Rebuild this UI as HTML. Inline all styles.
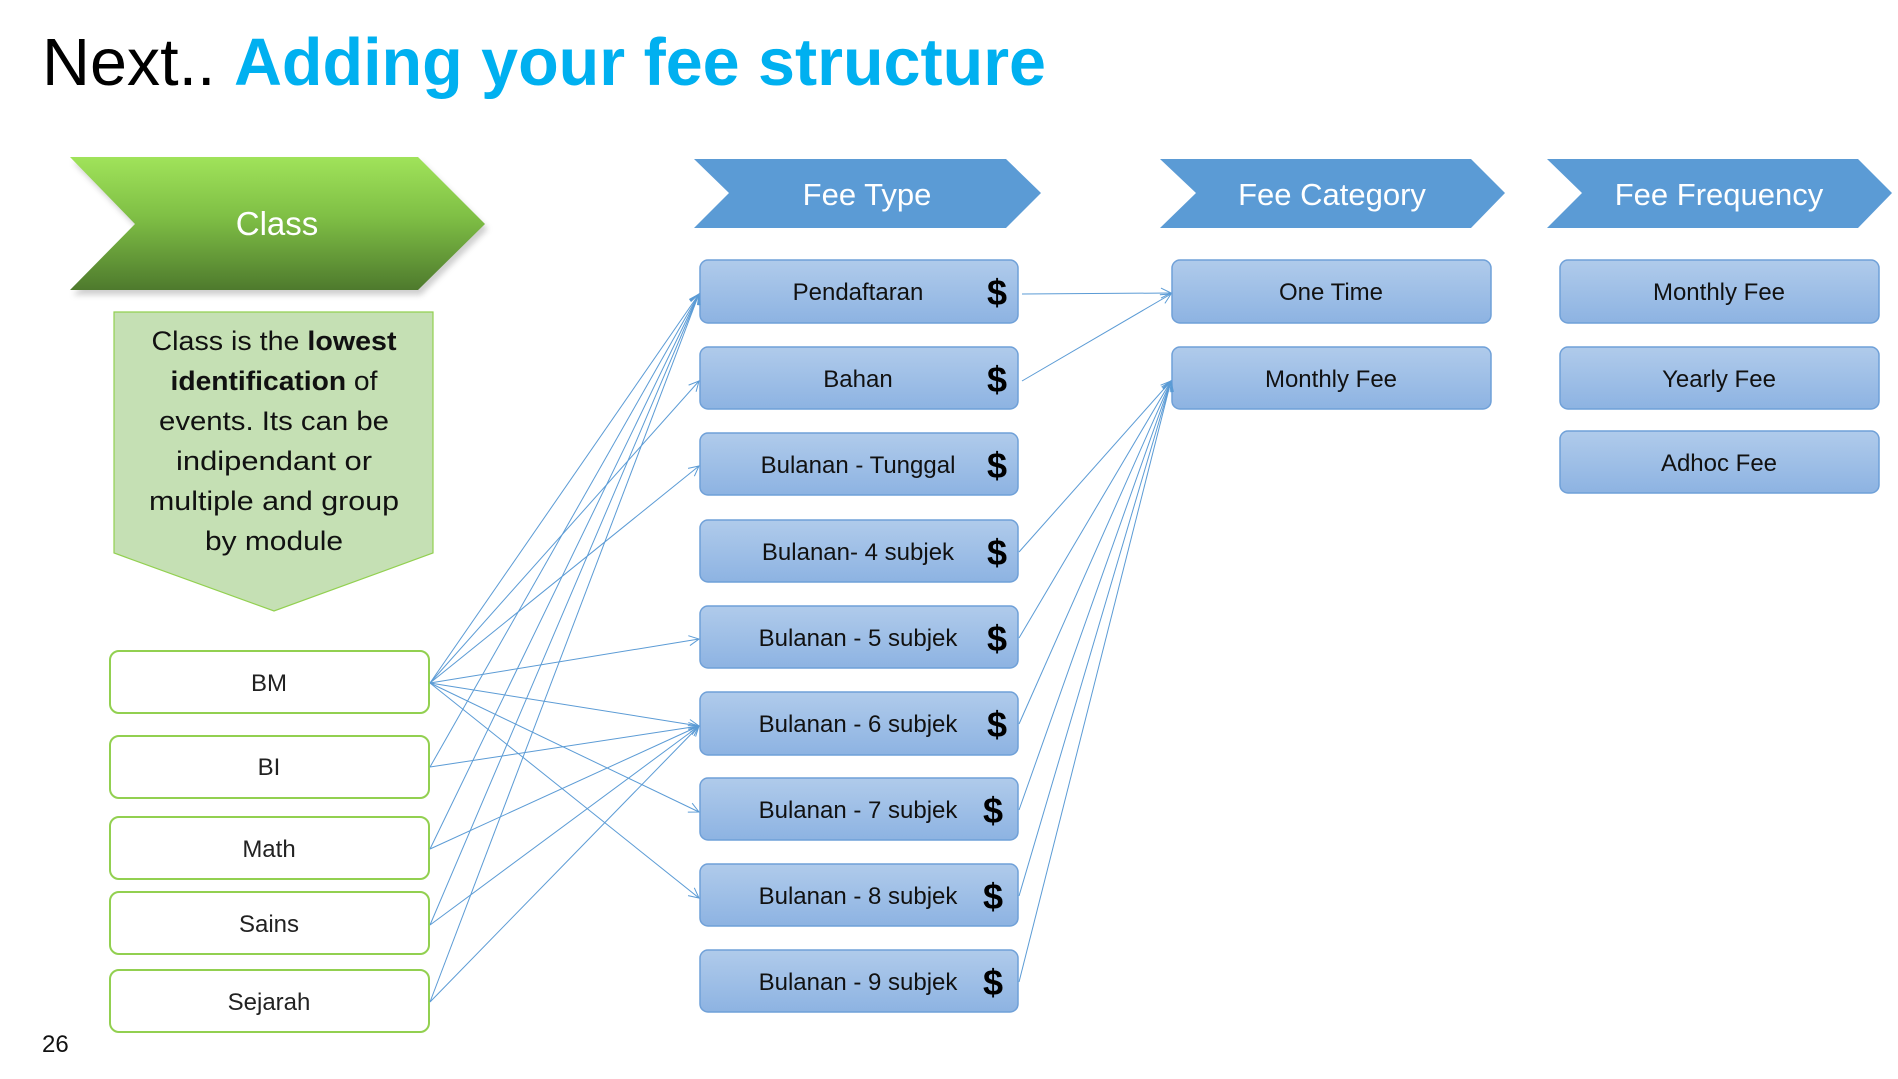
<!DOCTYPE html>
<html><head><meta charset="utf-8"><style>
html,body{margin:0;padding:0;background:#fff;}
svg{display:block;}
text{font-family:"Liberation Sans",sans-serif;}
</style></head><body>
<svg width="1898" height="1079" viewBox="0 0 1898 1079" xmlns="http://www.w3.org/2000/svg">
<defs>
<linearGradient id="gG" x1="0" y1="0" x2="0" y2="1"><stop offset="0" stop-color="#a0e35a"/><stop offset="0.45" stop-color="#7fbf45"/><stop offset="1" stop-color="#4e7a2d"/></linearGradient>
<linearGradient id="gB" x1="0" y1="0" x2="0" y2="1"><stop offset="0" stop-color="#b0cbeb"/><stop offset="1" stop-color="#8db3e2"/></linearGradient>
<filter id="blur" x="-10%" y="-10%" width="120%" height="130%"><feGaussianBlur stdDeviation="3"/></filter>
<marker id="ar" markerWidth="12" markerHeight="12" refX="11" refY="6" orient="auto" markerUnits="userSpaceOnUse"><path d="M1,1 L11,6 L1,11" fill="none" stroke="#5b9bd5" stroke-width="1"/></marker>
</defs>

<text x="42" y="85" font-size="67" fill="#000" textLength="1004" lengthAdjust="spacingAndGlyphs">Next.. <tspan fill="#00b0f0" font-weight="bold">Adding your fee structure</tspan></text>

<!-- Class chevron -->
<polygon points="70,157 418,157 485,224 418,290 70,290 135,224" fill="#777" opacity="0.35" transform="translate(3,5)" filter="url(#blur)"/>
<polygon points="70,157 418,157 485,224 418,290 70,290 135,224" fill="url(#gG)"/>
<text x="277" y="235" font-size="33" fill="#fff" text-anchor="middle">Class</text>

<!-- callout -->
<polygon points="114,312 433,312 433,553 274,611 114,553" fill="#c5e0b4" stroke="#92d050" stroke-width="1.2"/>
<g font-size="27" fill="#111" text-anchor="middle">
<text x="274" y="350" textLength="245" lengthAdjust="spacingAndGlyphs">Class is the <tspan font-weight="bold">lowest</tspan></text>
<text x="274" y="390" textLength="207" lengthAdjust="spacingAndGlyphs"><tspan font-weight="bold">identification</tspan> of</text>
<text x="274" y="430" textLength="230" lengthAdjust="spacingAndGlyphs">events. Its can be</text>
<text x="274" y="470" textLength="196" lengthAdjust="spacingAndGlyphs">indipendant or</text>
<text x="274" y="510" textLength="250" lengthAdjust="spacingAndGlyphs">multiple and group</text>
<text x="274" y="550" textLength="138" lengthAdjust="spacingAndGlyphs">by module</text>
</g>

<!-- class boxes -->
<g fill="#fff" stroke="#92d050" stroke-width="2">
<rect x="110" y="651" width="319" height="62" rx="9"/>
<rect x="110" y="736" width="319" height="62" rx="9"/>
<rect x="110" y="817" width="319" height="62" rx="9"/>
<rect x="110" y="892" width="319" height="62" rx="9"/>
<rect x="110" y="970" width="319" height="62" rx="9"/>
</g>
<g font-size="24" fill="#222" text-anchor="middle">
<text x="269" y="691">BM</text>
<text x="269" y="775">BI</text>
<text x="269" y="857">Math</text>
<text x="269" y="932">Sains</text>
<text x="269" y="1010">Sejarah</text>
</g>

<!-- headers -->
<g fill="#5b9bd5">
<polygon points="694,159 1006,159 1041,193 1006,228 694,228 729,193"/>
<polygon points="1160,159 1471,159 1505,193 1471,228 1160,228 1196,193"/>
<polygon points="1547,159 1858,159 1892,193 1858,228 1547,228 1582,193"/>
</g>
<g font-size="31" fill="#fff" text-anchor="middle">
<text x="867" y="205">Fee Type</text>
<text x="1332" y="205">Fee Category</text>
<text x="1719" y="205">Fee Frequency</text>
</g>

<!-- fee type boxes -->
<g fill="url(#gB)" stroke="#6fa0d8" stroke-width="1.5">
<rect x="700" y="260" width="318" height="63" rx="8"/>
<rect x="700" y="347" width="318" height="62" rx="8"/>
<rect x="700" y="433" width="318" height="62" rx="8"/>
<rect x="700" y="520" width="318" height="62" rx="8"/>
<rect x="700" y="606" width="318" height="62" rx="8"/>
<rect x="700" y="692" width="318" height="63" rx="8"/>
<rect x="700" y="778" width="318" height="62" rx="8"/>
<rect x="700" y="864" width="318" height="62" rx="8"/>
<rect x="700" y="950" width="318" height="62" rx="8"/>
<rect x="1172" y="260" width="319" height="63" rx="8"/>
<rect x="1172" y="347" width="319" height="62" rx="8"/>
<rect x="1560" y="260" width="319" height="63" rx="8"/>
<rect x="1560" y="347" width="319" height="62" rx="8"/>
<rect x="1560" y="431" width="319" height="62" rx="8"/>
</g>
<g font-size="24" fill="#111" text-anchor="middle">
<text x="858" y="300">Pendaftaran</text>
<text x="858" y="387">Bahan</text>
<text x="858" y="473">Bulanan - Tunggal</text>
<text x="858" y="560">Bulanan- 4 subjek</text>
<text x="858" y="646">Bulanan - 5 subjek</text>
<text x="858" y="732">Bulanan - 6 subjek</text>
<text x="858" y="818">Bulanan - 7 subjek</text>
<text x="858" y="904">Bulanan - 8 subjek</text>
<text x="858" y="990">Bulanan - 9 subjek</text>
<text x="1331" y="300">One Time</text>
<text x="1331" y="387">Monthly Fee</text>
<text x="1719" y="300">Monthly Fee</text>
<text x="1719" y="387">Yearly Fee</text>
<text x="1719" y="471">Adhoc Fee</text>
</g>
<g font-size="36" font-weight="bold" fill="#000" text-anchor="middle" style="font-family:'Liberation Serif',serif">
<text x="997" y="305">$</text>
<text x="997" y="392">$</text>
<text x="997" y="478">$</text>
<text x="997" y="565">$</text>
<text x="997" y="651">$</text>
<text x="997" y="737">$</text>
<text x="993" y="823">$</text>
<text x="993" y="909">$</text>
<text x="993" y="995">$</text>
</g>

<!-- connectors -->
<g stroke="#5b9bd5" stroke-width="1" fill="none" marker-end="url(#ar)">
<line x1="430" y1="683" x2="699" y2="294"/>
<line x1="430" y1="683" x2="699" y2="381"/>
<line x1="430" y1="683" x2="699" y2="466"/>
<line x1="430" y1="683" x2="699" y2="639"/>
<line x1="430" y1="683" x2="699" y2="726"/>
<line x1="430" y1="683" x2="699" y2="812"/>
<line x1="430" y1="683" x2="699" y2="898"/>
<line x1="430" y1="767" x2="699" y2="294"/>
<line x1="430" y1="767" x2="699" y2="726"/>
<line x1="430" y1="849" x2="699" y2="294"/>
<line x1="430" y1="849" x2="699" y2="726"/>
<line x1="430" y1="925" x2="699" y2="294"/>
<line x1="430" y1="925" x2="699" y2="726"/>
<line x1="430" y1="1002" x2="699" y2="294"/>
<line x1="430" y1="1002" x2="699" y2="726"/>
<line x1="1022" y1="294" x2="1171" y2="293"/>
<line x1="1022" y1="381" x2="1171" y2="294"/>
<line x1="1019" y1="552" x2="1171" y2="381"/>
<line x1="1019" y1="638" x2="1171" y2="381"/>
<line x1="1019" y1="724" x2="1171" y2="381"/>
<line x1="1019" y1="810" x2="1171" y2="381"/>
<line x1="1019" y1="896" x2="1171" y2="381"/>
<line x1="1019" y1="982" x2="1171" y2="381"/>
</g>

<text x="42" y="1052" font-size="24" fill="#111">26</text>
</svg>
</body></html>
